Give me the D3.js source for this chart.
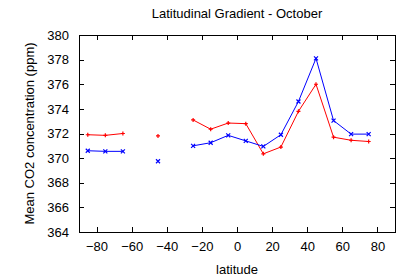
<!DOCTYPE html>
<html lang="en">
<head>
<meta charset="utf-8">
<title>Latitudinal Gradient - October</title>
<script src="https://cdn.jsdelivr.net/npm/d3@7"></script>
<style>
  body { margin: 0; background: #fff; }
  text { font-family: "Liberation Sans", Arial, sans-serif; }
  .axis path, .axis line { stroke: #000; shape-rendering: crispEdges; }
  .axis text { font-size: 13px; fill: #000; }
</style>
</head>
<body>
<script>
var w = 407, h = 280;
var margin = {top: 35, right: 12, bottom: 48, left: 79};

var latitude = [-85, -75, -65, -55, -45, -35, -25, -15, -5, 5, 15, 25, 35, 45, 55, 65, 75];
var redSeries = [371.9, 371.85, 372.0, null, 371.8, null, 373.1, 372.35, 372.85, 372.8, 370.35, 370.9, 373.8, 376.0, 371.7, 371.45, 371.35];
var blueSeries = [370.6, 370.55, 370.55, null, 369.75, null, 371.0, 371.25, 371.85, 371.4, 370.95, 371.9, 374.6, 378.1, 373.05, 371.95, 371.95];
var xTicks = [-80, -60, -40, -20, 0, 20, 40, 60, 80];
var yTicks = [364, 366, 368, 370, 372, 374, 376, 378, 380];

var svg = d3.select("body").append("svg")
    .attr("width", w)
    .attr("height", h);

var x = d3.scaleLinear().domain([-90, 90]).range([margin.left, w - margin.right]);
var y = d3.scaleLinear().domain([364, 380]).range([h - margin.bottom, margin.top]);

// frame
svg.append("rect")
   .attr("x", margin.left + 0.5)
   .attr("y", margin.top + 0.5)
   .attr("width", w - margin.right - margin.left)
   .attr("height", h - margin.bottom - margin.top)
   .attr("fill", "none")
   .attr("stroke", "#000");

// axes, ticks inward, mirrored on top/right
svg.append("g").attr("class", "axis")
   .attr("transform", "translate(0," + (h - margin.bottom) + ")")
   .call(d3.axisBottom(x).tickValues(xTicks).tickSizeInner(-5).tickSizeOuter(0).tickPadding(10))
   .call(function(g) { g.select(".domain").remove(); });

svg.append("g").attr("class", "axis")
   .attr("transform", "translate(0," + margin.top + ")")
   .call(d3.axisTop(x).tickValues(xTicks).tickSizeInner(-5).tickSizeOuter(0).tickFormat(""))
   .call(function(g) { g.select(".domain").remove(); });

svg.append("g").attr("class", "axis")
   .attr("transform", "translate(" + margin.left + ",0)")
   .call(d3.axisLeft(y).tickValues(yTicks).tickSizeInner(-5).tickSizeOuter(0).tickPadding(10))
   .call(function(g) { g.select(".domain").remove(); });

svg.append("g").attr("class", "axis")
   .attr("transform", "translate(" + (w - margin.right) + ",0)")
   .call(d3.axisRight(y).tickValues(yTicks).tickSizeInner(-5).tickSizeOuter(0).tickFormat(""))
   .call(function(g) { g.select(".domain").remove(); });

function drawSeries(values, color, marker) {
    var pts = latitude.map(function(d, i) { return {lat: d, v: values[i]}; });
    var line = d3.line()
        .defined(function(d) { return d.v != null; })
        .x(function(d) { return x(d.lat); })
        .y(function(d) { return y(d.v); });
    svg.append("path")
       .datum(pts)
       .attr("fill", "none")
       .attr("stroke", color)
       .attr("stroke-width", 1)
       .attr("d", line);
    var s = 2;
    var g = svg.append("g").attr("stroke", color).attr("stroke-width", 1.2);
    pts.filter(function(d) { return d.v != null; }).forEach(function(d) {
        var cx = x(d.lat), cy = y(d.v);
        if (marker === "+") {
            g.append("path").attr("d", "M" + (cx - s) + "," + cy + "H" + (cx + s) + "M" + cx + "," + (cy - s) + "V" + (cy + s));
        } else {
            g.append("path").attr("d", "M" + (cx - s) + "," + (cy - s) + "L" + (cx + s) + "," + (cy + s) + "M" + (cx - s) + "," + (cy + s) + "L" + (cx + s) + "," + (cy - s));
        }
    });
}

drawSeries(redSeries, "#ff0000", "+");
drawSeries(blueSeries, "#0000ff", "x");

svg.append("text")
   .attr("x", (margin.left + w - margin.right) / 2)
   .attr("y", 18)
   .attr("text-anchor", "middle")
   .style("font-size", "13px")
   .text("Latitudinal Gradient - October");

svg.append("text")
   .attr("x", (margin.left + w - margin.right) / 2)
   .attr("y", 274)
   .attr("text-anchor", "middle")
   .style("font-size", "13px")
   .text("latitude");

svg.append("text")
   .attr("transform", "translate(34," + ((margin.top + h - margin.bottom) / 2) + ") rotate(-90)")
   .attr("text-anchor", "middle")
   .style("font-size", "13px")
   .text("Mean CO2 concentration (ppm)");
</script>
</body>
</html>
